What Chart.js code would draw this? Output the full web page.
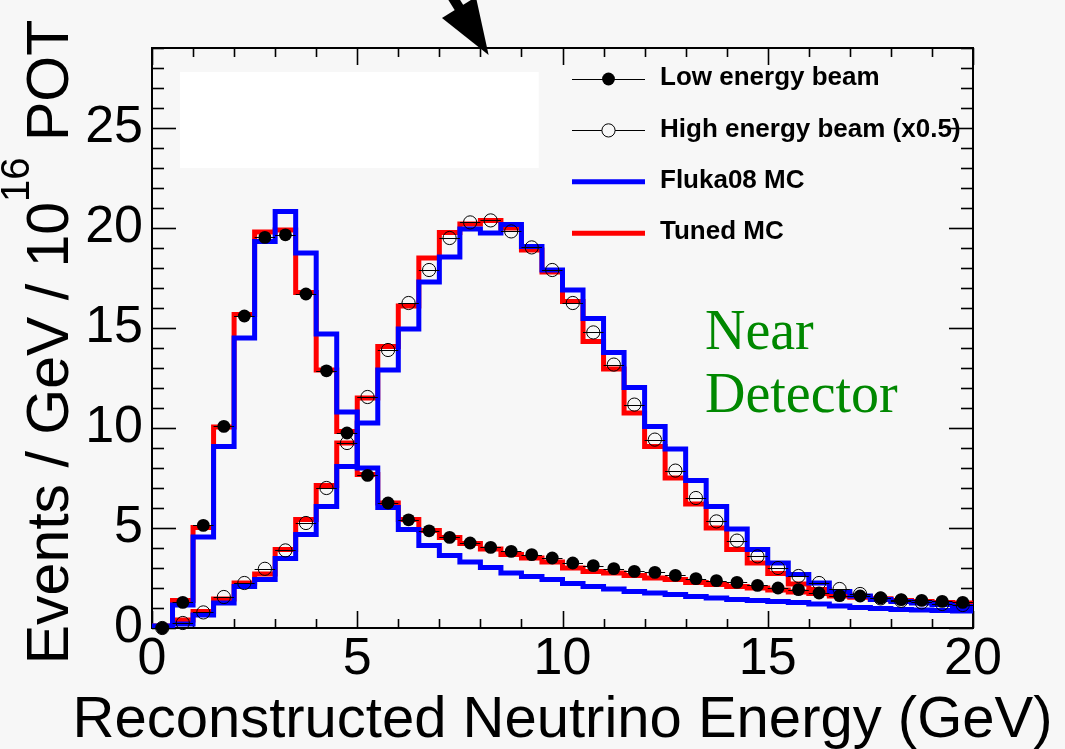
<!DOCTYPE html>
<html>
<head>
<meta charset="utf-8">
<title>Near Detector energy spectra</title>
<script src="https://cdn.jsdelivr.net/npm/chart.js@4.4.1/dist/chart.umd.min.js"></script>
<style>
  html, body { margin: 0; padding: 0; background: #f7f7f7; }
  #chart { display: block; }
</style>
</head>
<body>
<canvas id="chart" width="1065" height="749"></canvas>
<script>
// binning: 40 bins of 0.5 GeV from 0 to 20 GeV
var BIN_WIDTH = 0.5;
var N_BINS = 40;
var X_TICKS = [0, 5, 10, 15, 20];
var Y_TICKS = [0, 5, 10, 15, 20, 25];

// low energy beam: data, Fluka08 MC, tuned MC (events / GeV / 1e16 POT)
var lowData = [0.0, 1.28, 5.13, 10.08, 15.6, 19.53, 19.66, 16.7, 12.86, 9.75,
               7.63, 6.25, 5.41, 4.86, 4.53, 4.25, 4.03, 3.83, 3.67, 3.5,
               3.25, 3.12, 2.97, 2.83, 2.78, 2.63, 2.47, 2.37, 2.28, 2.13,
               2.0, 1.92, 1.75, 1.62, 1.6, 1.5, 1.42, 1.38, 1.33, 1.28];
var lowFluka = [0.1, 1.15, 4.55, 9.08, 14.5, 19.33, 20.83, 18.75, 14.7, 10.8,
                8.0, 6.03, 4.92, 4.13, 3.63, 3.3, 3.03, 2.75, 2.58, 2.42,
                2.22, 2.08, 1.95, 1.83, 1.75, 1.67, 1.58, 1.5, 1.42, 1.37,
                1.33, 1.27, 1.2, 1.1, 1.03, 0.97, 0.93, 0.9, 0.87, 0.85];
var lowTuned = [0.1, 1.38, 5.03, 10.05, 15.67, 19.8, 19.9, 16.78, 12.9, 9.83,
                7.67, 6.25, 5.42, 4.87, 4.53, 4.22, 3.95, 3.67, 3.5, 3.3,
                3.0, 2.83, 2.75, 2.62, 2.5, 2.42, 2.28, 2.17, 2.08, 2.0,
                1.9, 1.8, 1.72, 1.6, 1.55, 1.45, 1.38, 1.3, 1.27, 1.25];

// high energy beam (scaled x0.5): data, Fluka08 MC, tuned MC
var highData = [0.0, 0.25, 0.78, 1.55, 2.25, 2.96, 3.88, 5.25, 7.0, 9.25,
                11.55, 13.9, 16.25, 17.9, 19.5, 20.28, 20.38, 19.83, 19.03, 17.9,
                16.25, 14.78, 13.17, 11.17, 9.42, 7.87, 6.5, 5.33, 4.37, 3.58,
                3.0, 2.6, 2.25, 1.95, 1.7, 1.48, 1.36, 1.28, 1.2, 1.15];
var highFluka = [0.05, 0.2, 0.65, 1.25, 2.08, 2.42, 3.47, 4.67, 6.08, 8.08,
                 10.25, 12.9, 14.95, 17.3, 18.55, 19.95, 19.75, 20.17, 19.08, 17.9,
                 16.9, 15.47, 13.78, 12.03, 10.08, 8.95, 7.38, 6.08, 4.95, 3.92,
                 3.25, 2.67, 2.25, 1.83, 1.6, 1.42, 1.33, 1.25, 1.17, 1.08];
var highTuned = [0.05, 0.4, 0.83, 1.45, 2.25, 2.7, 3.92, 5.42, 7.12, 9.25,
                 11.5, 14.08, 16.1, 18.5, 19.78, 20.2, 20.38, 20.0, 18.9, 17.8,
                 16.33, 14.33, 12.95, 10.75, 9.08, 7.5, 6.2, 5.0, 3.92, 3.25,
                 2.72, 2.2, 1.92, 1.67, 1.55, 1.45, 1.38, 1.32, 1.27, 1.23];

var X_TITLE = 'Reconstructed Neutrino Energy (GeV)';

var SANS = '"Liberation Sans", Arial, Helvetica, sans-serif';
var SERIF = '"Liberation Serif", "Times New Roman", serif';

// markers at bin centres
function toPoints(vals) {
    return vals.map(function (v, i) {
        return {x: (i + 0.5) * BIN_WIDTH, y: v};
    });
}

// histogram outline: one point per low edge, plus the last upper edge
function toSteps(vals) {
    var pts = vals.map(function (v, i) {
        return {x: i * BIN_WIDTH, y: v};
    });
    pts.push({x: N_BINS * BIN_WIDTH, y: vals[vals.length - 1]});
    return pts;
}

function histDataset(label, vals, color) {
    return {
        label: label,
        data: toSteps(vals),
        showLine: true,
        stepped: true,
        borderColor: color,
        backgroundColor: color,
        borderWidth: 5,
        borderJoinStyle: 'miter',
        borderCapStyle: 'butt',
        pointRadius: 0,
        fill: false
    };
}

var blueHistLow = histDataset('Fluka08 MC', lowFluka, '#0000ff');
var blueHistHigh = histDataset('Fluka08 MC', highFluka, '#0000ff');
var redHistLow = histDataset('Tuned MC', lowTuned, '#ff0000');
var redHistHigh = histDataset('Tuned MC', highTuned, '#ff0000');
blueHistLow.order = blueHistHigh.order = 1;
redHistLow.order = redHistHigh.order = 2;

var lowPoints = {
    label: 'Low energy beam',
    data: toPoints(lowData),
    showLine: false,
    pointStyle: 'circle',
    pointRadius: 6.4,
    pointBackgroundColor: '#000',
    pointBorderColor: '#000',
    pointBorderWidth: 0,
    clip: false,
    order: 0
};
var highPoints = {
    label: 'High energy beam (x0.5)',
    data: toPoints(highData),
    showLine: false,
    pointStyle: 'circle',
    pointRadius: 6.6,
    pointBackgroundColor: 'rgba(0,0,0,0)',
    pointBorderColor: '#000',
    pointBorderWidth: 1,
    clip: false,
    order: 0
};

// which datasets get a legend row, and how the row is drawn
var legendRows = [
    {ds: 0, kind: 'fill'},
    {ds: 1, kind: 'open'},
    {ds: 2, kind: 'line'},
    {ds: 4, kind: 'line'}
];

// blank box in the upper left (data coordinates)
var blankBox = {x0: 0.68, x1: 9.42, y0: 23.0, y1: 27.8};

function line(ctx, x0, y0, x1, y1) {
    ctx.beginPath();
    ctx.moveTo(x0, y0);
    ctx.lineTo(x1, y1);
    ctx.stroke();
}

// frame with ticks on all four sides, blank box
var framePlugin = {
    id: 'frame',
    beforeDatasetsDraw: function (chart) {
        var ctx = chart.ctx, a = chart.chartArea;
        var xs = chart.scales.x, ys = chart.scales.y;
        ctx.save();

        ctx.fillStyle = '#ffffff';
        var bx0 = xs.getPixelForValue(blankBox.x0), bx1 = xs.getPixelForValue(blankBox.x1);
        var by0 = ys.getPixelForValue(blankBox.y1), by1 = ys.getPixelForValue(blankBox.y0);
        ctx.fillRect(bx0, by0, bx1 - bx0, by1 - by0);

        ctx.strokeStyle = '#000';
        ctx.lineWidth = 2;
        ctx.strokeRect(a.left, a.top, a.right - a.left, a.bottom - a.top);

        ctx.lineWidth = 1.6;
        var v, p, len;
        for (v = xs.min; v <= xs.max; v += 1) {
            p = Math.round(xs.getPixelForValue(v)) + 0.5;
            len = (v % 5 === 0) ? 17 : 9;
            line(ctx, p, a.bottom, p, a.bottom - len);
            line(ctx, p, a.top, p, a.top + len);
        }
        for (v = ys.min; v <= ys.max; v += 1) {
            p = Math.round(ys.getPixelForValue(v)) + 0.5;
            len = (v % 5 === 0) ? 24 : 12;
            line(ctx, a.left, p, a.left + len, p);
            line(ctx, a.right, p, a.right - len, p);
        }
        ctx.restore();
    }
};

// horizontal error bars spanning each bin
var errorBarPlugin = {
    id: 'xerr',
    afterDatasetsDraw: function (chart) {
        var ctx = chart.ctx, xs = chart.scales.x, ys = chart.scales.y;
        ctx.save();
        ctx.strokeStyle = '#000';
        ctx.lineWidth = 1;
        [0, 1].forEach(function (di) {
            chart.data.datasets[di].data.forEach(function (pt) {
                if (pt.y <= 0) return;
                var py = Math.round(ys.getPixelForValue(pt.y)) + 0.5;
                line(ctx, xs.getPixelForValue(pt.x - BIN_WIDTH / 2), py,
                          xs.getPixelForValue(pt.x + BIN_WIDTH / 2), py);
            });
        });
        ctx.restore();
    }
};

// legend, detector label, axis titles, arrow above the frame
var decorPlugin = {
    id: 'decor',
    afterDraw: function (chart) {
        var ctx = chart.ctx, xs = chart.scales.x, ys = chart.scales.y;
        var a = chart.chartArea;
        ctx.save();

        // legend
        var lx0 = 572, lx1 = 645, lmid = 608.5, tx = 660, ly = 79, dy = 51.4;
        ctx.font = 'bold 26px ' + SANS;
        ctx.textBaseline = 'middle';
        ctx.textAlign = 'left';
        legendRows.forEach(function (row, i) {
            var ds = chart.data.datasets[row.ds];
            var y = ly + i * dy;
            if (row.kind === 'line') {
                ctx.strokeStyle = ds.borderColor;
                ctx.lineWidth = 5;
                line(ctx, lx0, y, lx1, y);
            } else {
                ctx.strokeStyle = '#000';
                ctx.lineWidth = 1;
                line(ctx, lx0, Math.round(y) + 0.5, lx1, Math.round(y) + 0.5);
                ctx.beginPath();
                ctx.arc(lmid, y, ds.pointRadius, 0, Math.PI * 2);
                if (row.kind === 'fill') {
                    ctx.fillStyle = '#000';
                    ctx.fill();
                } else {
                    ctx.fillStyle = '#f7f7f7';
                    ctx.fill();
                    ctx.stroke();
                }
            }
            ctx.fillStyle = '#000';
            ctx.fillText(ds.label, tx, y - 1);
        });

        // detector label
        ctx.fillStyle = 'rgb(0,136,0)';
        ctx.font = '56px ' + SERIF;
        ctx.textBaseline = 'alphabetic';
        var nx = xs.getPixelForValue(13.47);
        ctx.fillText('Near', nx, ys.getPixelForValue(13.95));
        ctx.fillText('Detector', nx, ys.getPixelForValue(10.82));

        // x axis title
        ctx.fillStyle = '#000';
        ctx.font = '58px ' + SANS;
        ctx.textAlign = 'center';
        ctx.textBaseline = 'alphabetic';
        ctx.fillText(X_TITLE, (a.left + a.right) / 2, 737);

        // y axis title: Events / GeV / 10^16 POT
        ctx.textAlign = 'left';
        var big = '59px ' + SANS, small = '40px ' + SANS;
        var parts = [
            {t: 'Events / GeV / 10', f: big, up: 0},
            {t: '16', f: small, up: 39},
            {t: ' POT', f: big, up: 0}
        ];
        var total = 0;
        parts.forEach(function (pp) {
            ctx.font = pp.f;
            pp.w = ctx.measureText(pp.t).width;
            total += pp.w;
        });
        ctx.translate(68, 342);
        ctx.rotate(-Math.PI / 2);
        var cx = -total / 2;
        parts.forEach(function (pp) {
            ctx.font = pp.f;
            ctx.fillText(pp.t, cx, -pp.up);
            cx += pp.w;
        });
        ctx.setTransform(1, 0, 0, 1, 0, 0);

        // arrow pointing down onto the top of the frame
        var tipX = xs.getPixelForValue(8.2), tipY = ys.getPixelForValue(28.65);
        var ang = 58 * Math.PI / 180;
        var dx = Math.cos(ang), dy2 = Math.sin(ang);
        var nxv = -dy2, nyv = dx;
        var headLen = 56, headHalf = 20, shaftHalf = 5;
        var bxp = tipX - headLen * dx, byp = tipY - headLen * dy2;
        ctx.fillStyle = '#000';
        ctx.beginPath();
        ctx.moveTo(tipX, tipY);
        ctx.lineTo(bxp + headHalf * nxv, byp + headHalf * nyv);
        ctx.lineTo(bxp - headHalf * nxv, byp - headHalf * nyv);
        ctx.closePath();
        ctx.fill();
        var ex = bxp - 140 * dx, ey = byp - 140 * dy2;
        ctx.beginPath();
        ctx.moveTo(bxp + 4 * dx + shaftHalf * nxv, byp + 4 * dy2 + shaftHalf * nyv);
        ctx.lineTo(ex + shaftHalf * nxv, ey + shaftHalf * nyv);
        ctx.lineTo(ex - shaftHalf * nxv, ey - shaftHalf * nyv);
        ctx.lineTo(bxp + 4 * dx - shaftHalf * nxv, byp + 4 * dy2 - shaftHalf * nyv);
        ctx.closePath();
        ctx.fill();

        ctx.restore();
    }
};

var chart = new Chart(document.getElementById('chart'), {
    type: 'scatter',
    data: {
        datasets: [lowPoints, highPoints, blueHistLow, blueHistHigh, redHistLow, redHistHigh]
    },
    options: {
        responsive: false,
        animation: false,
        events: [],
        layout: {padding: {top: 48, right: 92, left: 0, bottom: 0}},
        plugins: {
            legend: {display: false},
            tooltip: {enabled: false}
        },
        scales: {
            x: {
                type: 'linear',
                min: 0,
                max: 20,
                afterBuildTicks: function (s) {
                    s.ticks = X_TICKS.map(function (v) { return {value: v}; });
                },
                afterFit: function (s) { s.height = 121; },
                grid: {display: false, drawTicks: false},
                border: {display: false},
                ticks: {
                    color: '#000',
                    font: {family: SANS, size: 52, lineHeight: 1.2},
                    padding: 0,
                    maxRotation: 0,
                    autoSkip: false
                },
                title: {display: false}
            },
            y: {
                type: 'linear',
                min: 0,
                max: 29,
                afterBuildTicks: function (s) {
                    s.ticks = Y_TICKS.map(function (v) { return {value: v}; });
                },
                afterFit: function (s) { s.width = 152; },
                grid: {display: false, drawTicks: false},
                border: {display: false},
                ticks: {
                    color: '#000',
                    font: {family: SANS, size: 52},
                    padding: 9
                },
                title: {display: false}
            }
        }
    },
    plugins: [framePlugin, errorBarPlugin, decorPlugin]
});
</script>
</body>
</html>
